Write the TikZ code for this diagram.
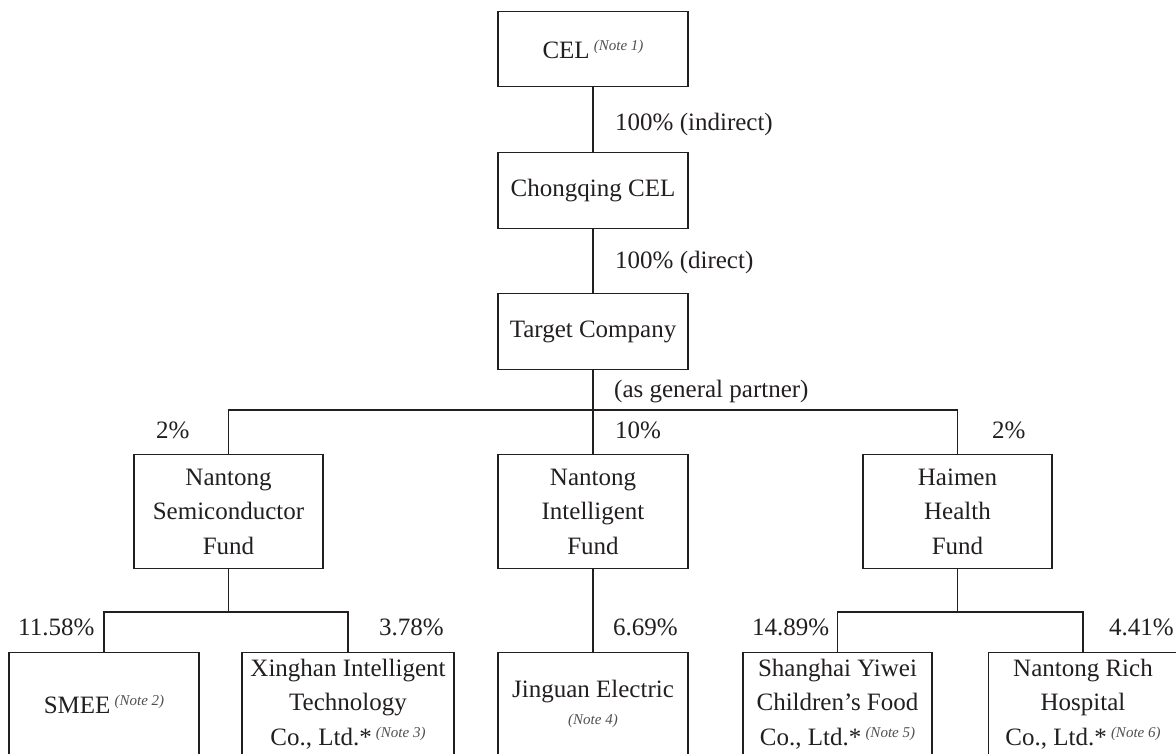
\documentclass[tikz,border=0pt]{standalone}
\usepackage{fontspec}
\setmainfont{Liberation Serif}
\definecolor{ink}{HTML}{231F20}
\definecolor{notegray}{HTML}{505050}
\newcommand{\notetxt}[1]{\raisebox{7.5pt}{\fontsize{15}{15}\selectfont\itshape\color{notegray}(#1)}}
\begin{document}
\begin{tikzpicture}[x=1pt,y=-1pt,
  ent/.style={draw=ink, line width=1.4pt, text=ink, align=center, inner sep=0pt,
    font=\fontsize{25}{34.5}\selectfont},
  pct/.style={text=ink, inner sep=0pt, anchor=base west, font=\fontsize{25}{30}\selectfont},
  link/.style={draw=ink, line width=1.4pt}]
\useasboundingbox (0,0) rectangle (1176,754);
\clip (0,0) rectangle (1176,754);
\fill[white] (0,0) rectangle (1176,754);

% top chain
\node[ent, anchor=north, minimum width=190pt, minimum height=75pt] (cel) at (593,11) {CEL\,\notetxt{Note 1}};
\node[ent, anchor=north, minimum width=190pt, minimum height=76pt] (chq) at (593,152) {Chongqing CEL};
\node[ent, anchor=north, minimum width=190pt, minimum height=76pt] (tgt) at (593,293) {Target Company};

% funds
\node[ent, anchor=north, minimum width=189pt, minimum height=114pt] (semi) at (228.5,454) {Nantong\\Semiconductor\\Fund};
\node[ent, anchor=north, minimum width=190pt, minimum height=114pt] (intel) at (593,454) {Nantong\\Intelligent\\Fund};
\node[ent, anchor=north, minimum width=189pt, minimum height=114pt] (haimen) at (957.5,454) {Haimen\\Health\\Fund};

% investees
\node[ent, anchor=north, minimum width=190pt, minimum height=103pt] (smee) at (104,652) {SMEE\,\notetxt{Note 2}};
\node[ent, anchor=north, minimum width=212pt, minimum height=103pt] (xing) at (348,652) {Xinghan Intelligent\\Technology\\Co., Ltd.*\,\notetxt{Note 3}};
\node[ent, anchor=north, minimum width=190pt, minimum height=103pt] (jing) at (593,652) {Jinguan Electric\\[-7.5pt]{\fontsize{15}{15}\selectfont\itshape\color{notegray}(Note 4)}};
\node[ent, anchor=north, minimum width=189pt, minimum height=103pt] (shang) at (837.5,652) {Shanghai Yiwei\\Children’s Food\\Co., Ltd.*\,\notetxt{Note 5}};
\node[ent, anchor=north, minimum width=189pt, minimum height=103pt] (rich) at (1083,652) {Nantong Rich\\Hospital\\Co., Ltd.*\,\notetxt{Note 6}};

% junction points
\coordinate (bar1) at (593,410);
\coordinate (bar2) at (228.5,612);
\coordinate (bar3) at (957.5,612);

% connectors
\draw[link] (cel.south) -- (chq.north);
\draw[link] (chq.south) -- (tgt.north);
\draw[link] (tgt.south) -- (intel.north);
\draw[link] (semi.north) |- (bar1) -| (haimen.north);
\draw[link] (semi.south) -- (bar2);
\draw[link] (smee.north) |- (bar2) -| (xing.north);
\draw[link] (intel.south) -- (jing.north);
\draw[link] (haimen.south) -- (bar3);
\draw[link] (shang.north) |- (bar3) -| (rich.north);

% labels
\node[pct] (l1) at (615,131) {100\% (indirect)};
\node[pct] (l2) at (615,269) {100\% (direct)};
\node[pct] (l3) at (614,397) {(as general partner)};
\node[pct] (p1) at (156,438) {2\%};
\node[pct] (p2) at (615,438) {10\%};
\node[pct] (p3) at (992,438) {2\%};
\node[pct] (q1) at (18,635) {11.58\%};
\node[pct] (q2) at (379,635) {3.78\%};
\node[pct] (q3) at (613,635) {6.69\%};
\node[pct] (q4) at (752,635) {14.89\%};
\node[pct] (q5) at (1109,635) {4.41\%};
\end{tikzpicture}
\end{document}
